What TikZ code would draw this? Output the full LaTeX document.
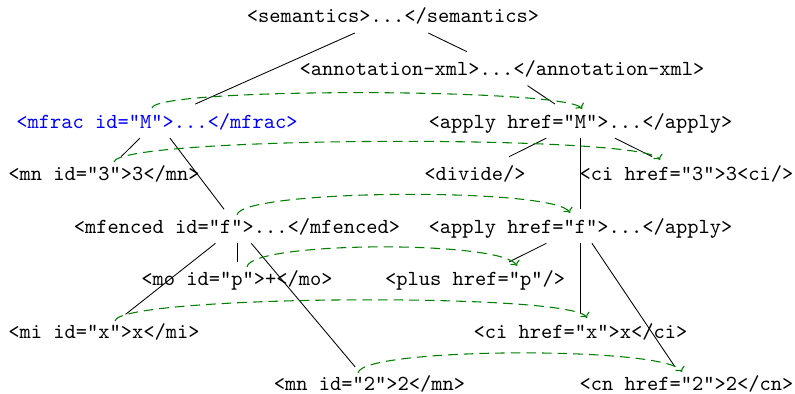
\documentclass[tikz,border=0pt]{standalone}
\usepackage{fontspec}
\usetikzlibrary{arrows.meta}
\definecolor{linkgreen}{RGB}{0,128,0}
\definecolor{idblue}{RGB}{0,0,255}
\begin{document}
\begin{tikzpicture}[x=0.4667pt,y=-0.4667pt,
  tag/.style={font=\ttfamily, text height=7.5pt, text depth=1pt, inner sep=3.5pt},
  edge/.style={draw=black, line width=0.4pt},
  link/.style={draw=linkgreen, line width=0.5pt, dash pattern=on 4.5pt off 2.8pt,
    -{To[length=2.2pt,width=4.8pt]}}]
\useasboundingbox (0,0) rectangle (795,393);
% nodes
\node[tag] (sem)     at (393,16)    {<semantics>...</semantics>};
\node[tag] (ann)     at (502,68.6)  {<annotation-xml>...</annotation-xml>};
\node[tag,text=idblue] (mfrac) at (157,121.1) {<mfrac id="M">...</mfrac>};
\node[tag] (applyM)  at (580.5,121.1) {<apply href="M">...</apply>};
\node[tag] (mn3)     at (104,173.7) {<mn id="3">3</mn>};
\node[tag] (divide)  at (475,173.7) {<divide/>};
\node[tag] (ci3)     at (686.5,173.7) {<ci href="3">3<ci/>};
\node[tag] (mfenced) at (237,226.3) {<mfenced id="f">...</mfenced>};
\node[tag] (applyF)  at (580.5,226.3) {<apply href="f">...</apply>};
\node[tag] (mo)      at (237,278.9) {<mo id="p">+</mo>};
\node[tag] (plus)    at (475,278.9) {<plus href="p"/>};
\node[tag] (mi)      at (104,331.4) {<mi id="x">x</mi>};
\node[tag] (cix)     at (580.5,331.4) {<ci href="x">x</ci>};
\node[tag] (mn2)     at (369.5,384) {<mn id="2">2</mn>};
\node[tag] (cn2)     at (686.5,384) {<cn href="2">2</cn>};
% tree edges
\draw[edge] (sem) -- (mfrac);
\draw[edge] (sem) -- (ann);
\draw[edge] (ann) -- (applyM);
\draw[edge] (mfrac) -- (mn3);
\draw[edge] (mfrac) -- (mfenced);
\draw[edge] (applyM) -- (divide);
\draw[edge] (applyM) -- (applyF);
\draw[edge] (applyM) -- (ci3);
\draw[edge] (mfenced) -- (mi);
\draw[edge] (mfenced) -- (mo);
\draw[edge] (mfenced) -- (mn2);
\draw[edge] (applyF) -- (plus);
\draw[edge] (applyF) -- (cix);
\draw[edge] (applyF) -- (cn2);
% link end points
\coordinate (sM) at (152,108);   \coordinate (eM) at (582,109);
\coordinate (s3) at (114,162);   \coordinate (e3) at (660,160);
\coordinate (sf) at (237,215);   \coordinate (ef) at (570,213);
\coordinate (sp) at (247,267);   \coordinate (ep) at (517,266);
\coordinate (sx) at (115,321);   \coordinate (ex) at (587,318);
\coordinate (s2) at (358,373);   \coordinate (e2) at (682,372);
% links
\draw[link] (sM) .. controls +(3,-21) and +(-14,-21) .. (eM);
\draw[link] (s3) .. controls +(3,-26) and +(-14,-26) .. (e3);
\draw[link] (sf) .. controls +(3,-26) and +(-14,-26) .. (ef);
\draw[link] (sp) .. controls +(3,-26) and +(-14,-26) .. (ep);
\draw[link] (sx) .. controls +(3,-26) and +(-14,-26) .. (ex);
\draw[link] (s2) .. controls +(3,-26) and +(-14,-26) .. (e2);
\end{tikzpicture}
\end{document}
